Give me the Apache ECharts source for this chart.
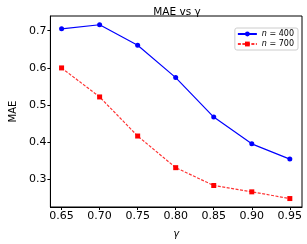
<!DOCTYPE html>
<html><head><meta charset="utf-8">
<script src="https://cdn.jsdelivr.net/npm/echarts@6/dist/echarts.min.js"></script>
<style>html,body{margin:0;padding:0;background:#fff}#c{width:307px;height:244px}</style>
</head><body><div id="c"></div>
<script>
const gammas = [0.65, 0.70, 0.75, 0.80, 0.85, 0.90, 0.95];
const mae400 = [0.705, 0.716, 0.661, 0.574, 0.468, 0.396, 0.355];
const mae700 = [0.600, 0.522, 0.417, 0.332, 0.284, 0.267, 0.249];
const xTicks = [0.65, 0.70, 0.75, 0.80, 0.85, 0.90, 0.95];
const yTicks = [0.3, 0.4, 0.5, 0.6, 0.7];
const font = 'DejaVu Sans';
const chart = echarts.init(document.getElementById('c'));
chart.setOption({
  animation: false,
  title: {text: 'MAE vs γ', left: 172, top: 2, textAlign: 'center',
    textStyle: {fontFamily: font, fontSize: 10.5, fontWeight: 'normal', color: '#000'}},
  grid: {left: 39, right: 5, top: 16, bottom: 33, show: true, borderColor: '#000', borderWidth: 1},
  legend: {right: 9, top: 28, orient: 'vertical', itemWidth: 19, itemHeight: 6, itemGap: 2,
    padding: [2, 4, 2, 2], borderColor: '#ccc', borderWidth: 1, borderRadius: 2, backgroundColor: '#fff',
    formatter: function (name) { return '{i|n} = ' + name.split('=')[1]; },
    textStyle: {fontFamily: font, fontSize: 8, color: '#000',
      rich: {i: {fontFamily: font, fontSize: 8, fontStyle: 'italic', color: '#000'}}}},
  xAxis: {type: 'value', min: 0.6353, max: 0.966,
    name: 'γ', nameLocation: 'middle', nameGap: 22,
    nameTextStyle: {fontFamily: font, fontSize: 10, fontStyle: 'italic', color: '#000'},
    axisLine: {show: true, lineStyle: {color: '#000'}},
    axisTick: {show: true, customValues: xTicks, length: 3, lineStyle: {color: '#000'}},
    axisLabel: {customValues: xTicks, fontFamily: font, fontSize: 11, color: '#000', margin: 4,
      formatter: v => v.toFixed(2)},
    splitLine: {show: false}},
  yAxis: {type: 'value', min: 0.2263, max: 0.7395,
    name: 'MAE', nameLocation: 'middle', nameGap: 31,
    nameTextStyle: {fontFamily: font, fontSize: 10, color: '#000'},
    axisLine: {show: true, lineStyle: {color: '#000'}},
    axisTick: {show: true, customValues: yTicks, length: 3, lineStyle: {color: '#000'}},
    axisLabel: {customValues: yTicks, fontFamily: font, fontSize: 11, color: '#000', margin: 4,
      formatter: v => v.toFixed(1)},
    splitLine: {show: false}},
  series: [
    {name: 'n=400', type: 'line', data: gammas.map((g, i) => [g, mae400[i]]),
      symbol: 'circle', symbolSize: 5, lineStyle: {color: '#0000ff', width: 1.2},
      itemStyle: {color: '#0000ff'}},
    {name: 'n=700', type: 'line', data: gammas.map((g, i) => [g, mae700[i]]),
      symbol: 'rect', symbolSize: 5, lineStyle: {color: '#ff0000', width: 1.2, type: [3, 1.5], opacity: 0.8},
      itemStyle: {color: '#ff0000'}}
  ]
});
</script></body></html>
